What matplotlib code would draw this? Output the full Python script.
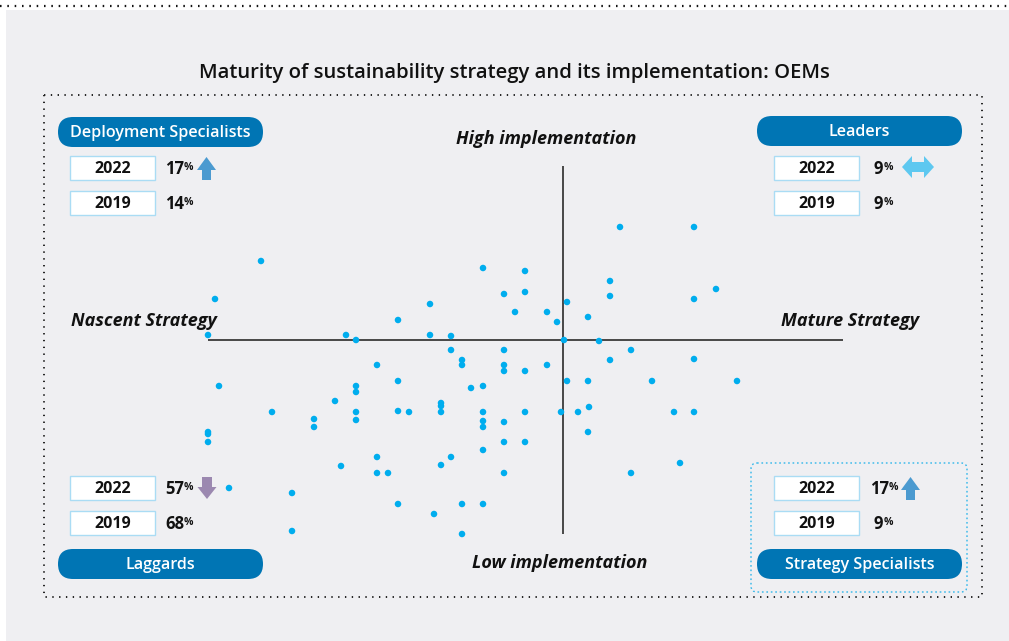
import matplotlib
matplotlib.use("Agg")
import matplotlib.pyplot as plt
from matplotlib.patches import FancyBboxPatch, Rectangle, Polygon

# ---------------- data ----------------
title = "Maturity of sustainability strategy and its implementation: OEMs"
quadrants = ["Deployment Specialists", "Leaders", "Laggards", "Strategy Specialists"]
years = ["2022", "2019"]
share_2022 = [17, 9, 57, 17]
share_2019 = [14, 9, 68, 9]
trend = ["up", "flat", "down", "up"]
label_top = "High implementation"
label_bottom = "Low implementation"
label_left = "Nascent Strategy"
label_right = "Mature Strategy"

# strategy maturity (x) and implementation (y), relative to the quadrant centre
strategy = [-302, -348, -355, -80, -38, -59, -38, -133, -48, -16, 4, -6, 25, -165,
            -217, -207, -133, -112, 1, -112, -59, -101, -101, -186, -59, -59, -38, -16,
            -344, -207, -207, -165, -92, -80, 4, 25, -228, 57, 131, 47, 47, 153, 131,
            36, 68, 47, 131, 89, 174, 26, -291, -207, -165, -154, -122, -122, -122,
            -80, -38, -2, 15, -249, -249, -207, -80, -80, -59, -355, -355, -355, -59,
            -38, -80, 25, -186, -112, -222, -122, -186, -175, -59, -334, -271, -165,
            -101, -80, -129, -271, -101, 111, 131, 117, 68]
implementation = [79, 41, 5, 72, 69, 46, 48, 36, 28, 28, 38, 18, 23, 20,
                  5, 0, 5, 4, 0, -10, -10, -20, -25, -25, -25, -31, -31, -25,
                  -46, -46, -52, -41, -48, -46, -41, -41, -61, 113, 113, 59, 44, 51, 41,
                  -1, -10, -20, -19, -41, -41, -67, -72, -72, -71, -72, -63, -66, -72,
                  -72, -72, -72, -72, -79, -87, -80, -81, -87, -82, -92, -94, -102, -102,
                  -102, -110, -92, -117, -117, -126, -125, -133, -133, -133, -148, -153, -164,
                  -164, -164, -174, -191, -194, -72, -72, -123, -133]
x_range = (-355, 280)
y_range = (-194, 174)

# ---------------- styling ----------------
W, H = 1009, 641
FONT = "Open Sans"
plt.rcParams["font.family"] = [FONT, "DejaVu Sans"]
PANEL = "#efeff2"
PILL = "#0075b4"
DOT = "#00adee"
BOXEDGE = "#aadcf4"
UP = "#4b9ad0"
FLAT = "#5ec8f0"
DOWN = "#9b88b0"

fig = plt.figure(figsize=(W / 100, H / 100), dpi=100)
fig.patch.set_facecolor("white")
bg = fig.add_axes([0, 0, 1, 1])
bg.set_xlim(0, W)
bg.set_ylim(H, 0)
bg.axis("off")

# panel + top dotted rule
bg.add_patch(Rectangle((6, 10), W - 6, H - 10, fc=PANEL, ec="none"))
bg.plot([0, W], [5.5, 5.5], color="#111111", lw=1.6, ls=(0, (0.7, 2.6)),
        solid_capstyle="butt", dash_capstyle="butt")

# title
bg.text(514, 73, title, ha="center", va="center", fontsize=14.6, color="#111111",
        fontweight="semibold")

# dotted frame
fx0, fy0, fx1, fy1 = 44, 95, 982, 597
bg.plot([fx0, fx1, fx1, fx0, fx0], [fy0, fy0, fy1, fy1, fy0], color="#222222",
        lw=1.4, ls=(0, (0.7, 2.8)))

# strategy-specialists highlight box
bg.add_patch(FancyBboxPatch((751, 463), 216, 129, boxstyle="round,pad=0,rounding_size=6",
                            fc="none", ec="#2fb6ea", lw=1.0, ls=(0, (1.2, 2.0))))

# quadrant panels
pill_pos = [(58, 117), (757, 116), (58, 549), (757, 549)]
box_pos = [((70, 156), (70, 191)), ((774, 156), (774, 191)),
           ((70, 476), (70, 511)), ((774, 476), (774, 511))]
pct_x = [(165, 165), (874, 874), (165, 165), (870, 874)]
arrow_pos = [(206.5, 157, 180), (918, 167, 0), (207, 477, 499), (910.5, 477, 500)]

for i, name in enumerate(quadrants):
    px, py = pill_pos[i]
    bg.add_patch(FancyBboxPatch((px, py), 205, 30, boxstyle="round,pad=0,rounding_size=15",
                                fc=PILL, ec="none"))
    bg.text(px + 102.5, py + 16, name, ha="center", va="center", color="white",
            fontsize=11.6, fontweight="semibold")
    vals = [share_2022[i], share_2019[i]]
    for j, (bx, by) in enumerate(box_pos[i]):
        bg.add_patch(Rectangle((bx, by), 85, 24, fc="white", ec=BOXEDGE, lw=1.0))
        bg.text(bx + 42.5, by + 13, years[j], ha="center", va="center",
                fontsize=11.5, fontweight="bold", color="#111111")
        t = bg.text(pct_x[i][j], by + 13, str(vals[j]), ha="left", va="center",
                    fontsize=12, fontweight="bold", color="#111111")
        bg.annotate("%", xy=(1, 0.9), xycoords=t, ha="left", va="top",
                    fontsize=7.5, fontweight="bold", color="#111111")
    ax_, a1, a2 = arrow_pos[i]
    if trend[i] == "up":
        top, bot = a1, a2
        pts = [(ax_, top), (ax_ + 9.5, top + 13), (ax_ + 4.5, top + 13), (ax_ + 4.5, bot),
               (ax_ - 4.5, bot), (ax_ - 4.5, top + 13), (ax_ - 9.5, top + 13)]
        bg.add_patch(Polygon(pts, closed=True, fc=UP, ec="none"))
    elif trend[i] == "down":
        top, bot = a1, a2
        pts = [(ax_, bot), (ax_ + 9.5, bot - 12), (ax_ + 5, bot - 12), (ax_ + 5, top),
               (ax_ - 5, top), (ax_ - 5, bot - 12), (ax_ - 9.5, bot - 12)]
        bg.add_patch(Polygon(pts, closed=True, fc=DOWN, ec="none"))
    else:
        cy = a1
        l, r = ax_ - 16, ax_ + 16
        pts = [(l, cy), (l + 10, cy - 11), (l + 10, cy - 5), (r - 10, cy - 5), (r - 10, cy - 11),
               (r, cy), (r - 10, cy + 11), (r - 10, cy + 5), (l + 10, cy + 5), (l + 10, cy + 11)]
        bg.add_patch(Polygon(pts, closed=True, fc=FLAT, ec="none"))

# axis labels
lab_kw = dict(fontsize=13, fontweight="bold", fontstyle="italic", color="#111111",
              ha="center", va="center")
bg.text(546, 138.5, label_top, **lab_kw)
bg.text(560, 563.5, label_bottom, **lab_kw)
bg.text(144, 321, label_left, **lab_kw)
bg.text(850, 321, label_right, **lab_kw)

# scatter axes
L, R, T, B = 208, 843, 166, 534
ax = fig.add_axes([L / W, 1 - B / H, (R - L) / W, (B - T) / H])
ax.set_xlim(*x_range)
ax.set_ylim(*y_range)
ax.patch.set_alpha(0)
ax.axis("off")
ax.axhline(0, color="#3a3a3a", lw=1.3, zorder=1)
ax.axvline(0, color="#3a3a3a", lw=1.3, zorder=1)
ax.scatter(strategy, implementation, s=22, color=DOT, edgecolors="none", zorder=3,
           clip_on=False)

fig.savefig("out.png", dpi=100, facecolor=fig.get_facecolor())
